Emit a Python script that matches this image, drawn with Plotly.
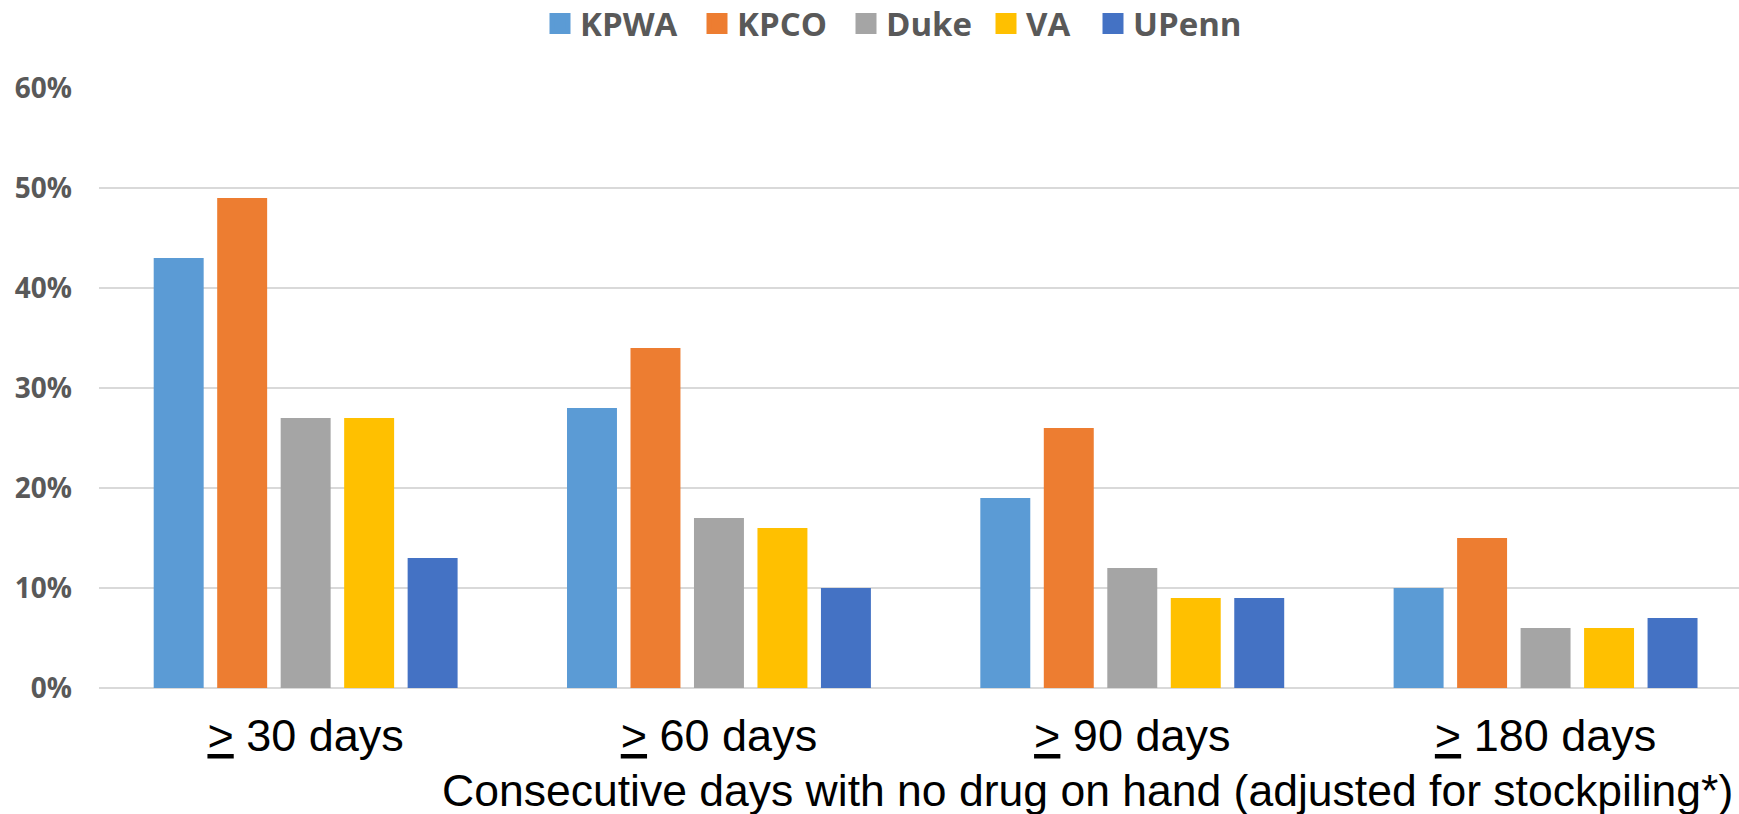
import plotly.graph_objects as go

# Categories: consecutive days with no drug on hand
categories = ["<u>&gt;</u> 30 days", "<u>&gt;</u> 60 days", "<u>&gt;</u> 90 days", "<u>&gt;</u> 180 days"]

# Share of patients per site (fraction)
kpwa = [0.43, 0.28, 0.19, 0.10]
kpco = [0.49, 0.34, 0.26, 0.15]
duke = [0.27, 0.17, 0.12, 0.06]
va = [0.27, 0.16, 0.09, 0.06]
upenn = [0.13, 0.10, 0.09, 0.07]

series_names = ["KPWA", "KPCO", "Duke", "VA", "UPenn"]
series_values = [kpwa, kpco, duke, va, upenn]
colors = ["#5B9BD5", "#ED7D31", "#A5A5A5", "#FFC000", "#4472C4"]

y_ticks = [0, 0.1, 0.2, 0.3, 0.4, 0.5, 0.6]
y_tick_text = ["0%", "10%", "20%", "30%", "40%", "50%", "60%"]

x_title = "Consecutive days with no drug on hand (adjusted for stockpiling*)"

W, H = 1739, 814
L, R, T, B = 99, 0, 88, 126
plot_w = W - L - R
plot_h = H - B - T

# left edge (px) of each legend entry's text
legend_text_px = [580, 737, 886, 1026, 1133]

fig = go.Figure()

legend_layouts = {}
for i, (name, vals, col) in enumerate(zip(series_names, series_values, colors)):
    lg = "legend" if i == 0 else f"legend{i + 1}"
    fig.add_trace(go.Bar(
        x=list(range(len(categories))), y=vals, name=name,
        marker=dict(color=col, line=dict(width=0)),
        showlegend=False,
    ))
    # legend swatch
    fig.add_trace(go.Scatter(
        x=[None], y=[None], mode="markers", name=name,
        marker=dict(symbol="square", size=16, color=col, line=dict(width=5, color=col)),
        showlegend=True, legend=lg,
    ))
    legend_layouts[lg] = dict(
        orientation="h", x=(legend_text_px[i] - 40 - L) / plot_w, xanchor="left",
        y=((H - B) - 23.5) / plot_h, yanchor="middle",
        font=dict(family="Open Sans", size=33, color="#595959", weight="bold"),
        itemclick=False, bgcolor="rgba(0,0,0,0)",
    )

fig.update_layout(
    width=W, height=H,
    margin=dict(l=L, r=R, t=T, b=B, pad=0, autoexpand=False),
    paper_bgcolor="white", plot_bgcolor="white",
    barmode="group", bargap=0.232, bargroupgap=0.213,
    xaxis=dict(
        tickmode="array", tickvals=list(range(len(categories))), ticktext=categories,
        range=[-0.5, 3.468], showgrid=False, zeroline=False, showline=False,
        ticks="", tickfont=dict(family="Liberation Sans", size=45, color="black"),
        ticklabelstandoff=17,
    ),
    yaxis=dict(
        range=[0, 0.6], tickvals=y_ticks, ticktext=y_tick_text,
        showgrid=True, gridcolor="#D9D9D9", gridwidth=2,
        zeroline=True, zerolinecolor="#D9D9D9", zerolinewidth=2,
        showline=False, ticks="",
        tickfont=dict(family="Open Sans", size=28, color="#595959", weight="bold"),
        ticklabelstandoff=26,
    ),
    annotations=[dict(
        text=x_title, xref="paper", yref="paper",
        x=(1735 - L) / plot_w, xanchor="right",
        y=-(790 - (H - B)) / plot_h, yanchor="middle",
        showarrow=False,
        font=dict(family="Liberation Sans", size=44.5, color="black"),
    )],
    **legend_layouts,
)

fig.write_html("out.html")
